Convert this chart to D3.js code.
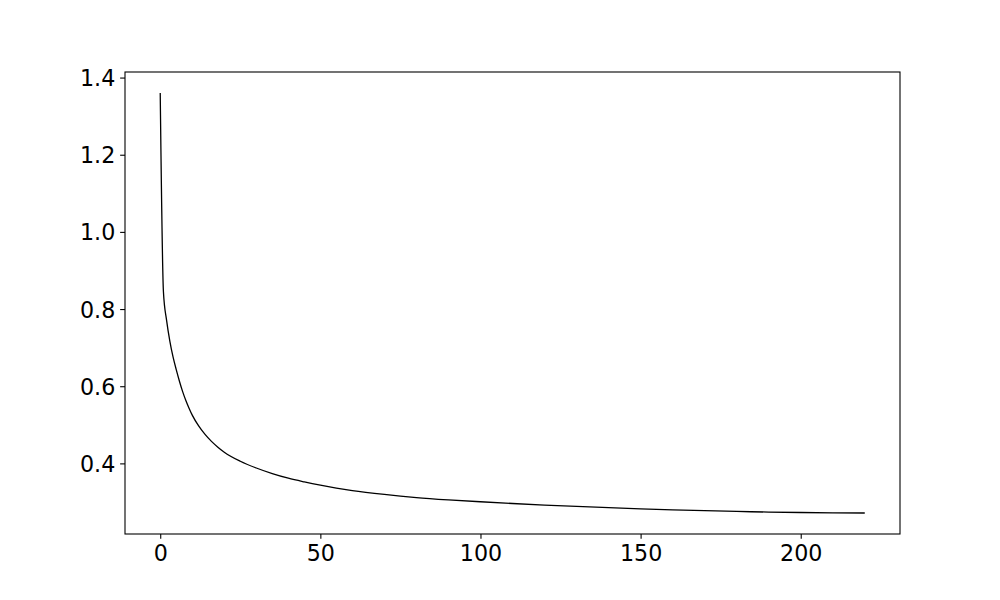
<!DOCTYPE html>
<html>
<head>
<meta charset="utf-8">
<script src="https://cdn.jsdelivr.net/npm/d3@7"></script>
<style>
  body { margin: 0; background: #fff; }
  svg { display: block; font-family: "DejaVu Sans", sans-serif; }
</style>
</head>
<body>
<div id="chart"></div>
<script>
// loss per epoch
const epochs = [0, 1, 2, 3, 4, 5, 6, 7, 8, 9, 10, 12, 14, 16, 18, 20, 25, 30, 35, 40, 45, 50, 55, 60,
  70, 80, 90, 100, 110, 120, 130, 140, 150, 160, 170, 180, 190, 200, 210, 220];
const loss = [1.36, 0.845, 0.77, 0.717, 0.676, 0.643, 0.613, 0.586, 0.563, 0.543, 0.525, 0.497, 0.475,
  0.457, 0.442, 0.429, 0.4055, 0.388, 0.3735, 0.3615, 0.352, 0.3435, 0.336, 0.3295, 0.3195, 0.3115, 0.3055,
  0.3005, 0.296, 0.292, 0.2884, 0.2852, 0.2823, 0.2797, 0.2774, 0.2754, 0.2738, 0.2727, 0.2719, 0.2714];
const xTicks = [0, 50, 100, 150, 200];
const yTicks = [0.4, 0.6, 0.8, 1.0, 1.2, 1.4];

const width = 1000;
const height = 600;
const margin = { top: 72, right: 100, bottom: 66, left: 125 };

const data = epochs.map((e, i) => ({ epoch: e, loss: loss[i] }));

// matplotlib style 5% padding around the data
const xExt = d3.extent(epochs);
const yExt = d3.extent(loss);
const xPad = (xExt[1] - xExt[0]) * 0.05;
const yPad = (yExt[1] - yExt[0]) * 0.05;

const x = d3.scaleLinear([xExt[0] - xPad, xExt[1] + xPad], [margin.left, width - margin.right]);
const y = d3.scaleLinear([yExt[0] - yPad, yExt[1] + yPad], [height - margin.bottom, margin.top]);

const svg = d3.select("#chart")
  .append("svg")
  .attr("width", width)
  .attr("height", height);

const tickLen = 4.86;
const tickPad = 4.86;

svg.append("g")
  .attr("transform", `translate(0,${height - margin.bottom})`)
  .call(d3.axisBottom(x).tickValues(xTicks).tickFormat(d3.format("d"))
    .tickSize(tickLen).tickPadding(tickPad).tickSizeOuter(0))
  .call(g => g.select(".domain").remove())
  .call(g => g.selectAll(".tick line").attr("stroke", "#000").attr("stroke-width", 1.1))
  .call(g => g.selectAll(".tick text").attr("fill", "#000").attr("font-size", "22.2px")
    .attr("font-family", "DejaVu Sans").attr("dy", "0.76em"));

svg.append("g")
  .attr("transform", `translate(${margin.left},0)`)
  .call(d3.axisLeft(y).tickValues(yTicks).tickFormat(d3.format(".1f"))
    .tickSize(tickLen).tickPadding(tickPad).tickSizeOuter(0))
  .call(g => g.select(".domain").remove())
  .call(g => g.selectAll(".tick line").attr("stroke", "#000").attr("stroke-width", 1.1))
  .call(g => g.selectAll(".tick text").attr("fill", "#000").attr("font-size", "22.2px")
    .attr("font-family", "DejaVu Sans").attr("dy", "0.36em"));

const line = d3.line()
  .x(d => x(d.epoch))
  .y(d => y(d.loss))
  .curve(d3.curveMonotoneX);

svg.append("path")
  .attr("fill", "none")
  .attr("stroke", "#000")
  .attr("stroke-width", 1.3)
  .attr("d", line(data));

// axes frame
svg.append("rect")
  .attr("x", margin.left)
  .attr("y", margin.top)
  .attr("width", width - margin.left - margin.right)
  .attr("height", height - margin.top - margin.bottom)
  .attr("fill", "none")
  .attr("stroke", "#000")
  .attr("stroke-width", 1.1);
</script>
</body>
</html>
